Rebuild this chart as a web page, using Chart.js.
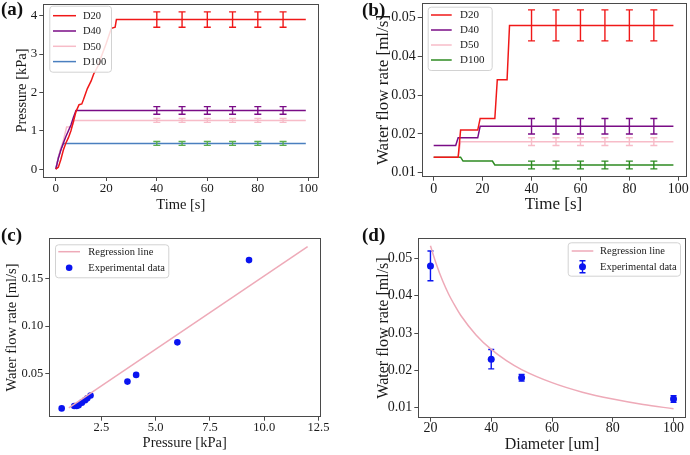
<!DOCTYPE html>
<html><head><meta charset="utf-8">
<script src="https://cdn.jsdelivr.net/npm/chart.js@4.4.1/dist/chart.umd.min.js"></script>
<style>
html,body{margin:0;padding:0;background:#fff;}
#wrap{position:relative;width:690px;height:455px;overflow:hidden;background:#fff;}
canvas{position:absolute;}
</style></head><body>
<div id="wrap">
<canvas id="ca" width="345" height="225" style="left:0;top:0"></canvas>
<canvas id="cb" width="345" height="225" style="left:345px;top:0"></canvas>
<canvas id="cc" width="345" height="230" style="left:0;top:225px"></canvas>
<canvas id="cd" width="345" height="230" style="left:345px;top:225px"></canvas>
</div>
<script>
// ---------------- DATA ----------------
const seriesNames = ['D20', 'D40', 'D50', 'D100'];

// (a) Pressure vs time
const aTimeD20  = [0, 1, 2, 3, 4, 5, 6, 7, 8, 9.2, 10.3, 11, 12.5, 14, 15, 17, 18, 20, 22, 23.5, 24, 99];
const aPressD20 = [0, 0.05, 0.25, 0.5, 0.68, 0.82, 1.0, 1.25, 1.5, 1.68, 1.7, 1.82, 2.1, 2.3, 2.48, 2.72, 2.93, 3.28, 3.67, 3.7, 3.9, 3.9];
const aTimeD40  = [0, 1, 2, 3, 4, 5, 6, 7, 8, 99];
const aPressD40 = [0, 0.28, 0.5, 0.68, 0.85, 1.0, 1.15, 1.35, 1.53, 1.53];
const aTimeD50  = [0, 1, 2, 3, 4.3, 6.3, 7.3, 99];
const aPressD50 = [0, 0.3, 0.55, 0.75, 1.1, 1.1, 1.27, 1.27];
const aTimeD100  = [0, 1, 2, 3, 99];
const aPressD100 = [0, 0.3, 0.52, 0.67, 0.67];
const aErrTimes = [40, 50, 60, 70, 80, 90];
const aErrMean  = [3.9, 1.53, 1.27, 0.67];
const aErrSize  = [0.2, 0.1, 0.05, 0.05];
const aXTicks = [0, 20, 40, 60, 80, 100];
const aYTicks = [0, 1, 2, 3, 4];

// (b) Water flow rate vs time
const bTimeD20  = [0, 10, 11, 18, 19, 25, 26, 30, 31, 98];
const bFlowD20  = [0.014, 0.014, 0.021, 0.021, 0.024, 0.024, 0.034, 0.034, 0.048, 0.048];
const bTimeD40  = [0, 9, 10, 18, 19, 98];
const bFlowD40  = [0.017, 0.017, 0.019, 0.019, 0.022, 0.022];
const bTimeD50  = [0, 10, 11, 98];
const bFlowD50  = [0.014, 0.014, 0.018, 0.018];
const bTimeD100 = [0, 11, 12, 24, 25, 98];
const bFlowD100 = [0.014, 0.014, 0.013, 0.013, 0.012, 0.012];
const bErrTimes = [40, 50, 60, 70, 80, 90];
const bErrMean  = [0.048, 0.022, 0.018, 0.012];
const bErrSize  = [0.004, 0.002, 0.001, 0.001];
const bXTicks = [0, 20, 40, 60, 80, 100];
const bYTicks = [0.01, 0.02, 0.03, 0.04, 0.05];

// (c) Flow rate vs pressure
const cPressure = [0.67, 1.25, 1.36, 1.45, 1.6, 1.75, 1.85, 2.0, 3.7, 4.1, 6.0, 9.3];
const cFlow     = [0.014, 0.0165, 0.0165, 0.0172, 0.020, 0.0225, 0.0245, 0.0275, 0.042, 0.049, 0.083, 0.169];
const cRegX = [1.0, 12.0];
const cRegY = [0.0144, 0.183];
const cXTicks = [2.5, 5.0, 7.5, 10.0, 12.5];
const cYTicks = [0.05, 0.10, 0.15];

// (d) Flow rate vs diameter
const dDiameter = [20, 40, 50, 100];
const dFlow     = [0.048, 0.023, 0.018, 0.0123];
const dFlowErr  = [0.004, 0.0026, 0.0009, 0.0009];
const dRegX = [20, 22, 24, 26, 28, 30, 35, 40, 45, 50, 60, 70, 80, 90, 100];
const dRegY = [0.0534, 0.0483, 0.0440, 0.0404, 0.0374, 0.0347, 0.0295, 0.0256, 0.0226, 0.0202, 0.0167, 0.01415, 0.0123, 0.01084, 0.0097];
const dXTicks = [20, 40, 60, 80, 100];
const dYTicks = [0.01, 0.02, 0.03, 0.04, 0.05];

const regLabel = 'Regression line';
const expLabel = 'Experimental data';

// ---------------- STYLE ----------------
const SERIF = "'Liberation Serif', 'Times New Roman', serif";
const TXT = '#1a1a1a';
const AX = '#4a4a4a';
const colA = ['#f01818', '#7a0c86', '#f7bcc8', '#4a7fbf'];
const colAErr = ['#f01818', '#7a0c86', '#f7bcc8', '#5aad4e'];
const colB = ['#f01818', '#7a0c86', '#f7bcc8', '#2e8b22'];
const regColor = '#eeaab8';
const expColor = '#0a14f0';

const zip = (xs, ys) => xs.map((x, i) => ({x, y: ys[i]}));

// ---------------- PLUGINS ----------------
function drawErr(chart, i, before) {
  const ds = chart.data.datasets[i];
  if (!ds.err || (!!ds.errBefore) !== before) return;
  const xs = chart.scales.x, ys = chart.scales.y, ctx = chart.ctx;
  const cap = ds.errCap || 3.5;
  ctx.save();
  ctx.strokeStyle = ds.errColor;
  ctx.lineWidth = ds.errWidth || 1.4;
  ds.err.x.forEach((xv, k) => {
    const yv = ds.err.y[k], e = ds.err.e[k];
    const px = xs.getPixelForValue(xv);
    const p1 = ys.getPixelForValue(yv - e), p2 = ys.getPixelForValue(yv + e);
    ctx.beginPath();
    ctx.moveTo(px, p1); ctx.lineTo(px, p2);
    ctx.moveTo(px - cap, p1); ctx.lineTo(px + cap, p1);
    ctx.moveTo(px - cap, p2); ctx.lineTo(px + cap, p2);
    ctx.stroke();
  });
  ctx.restore();
}
const errPlugin = {
  id: 'errbars',
  beforeDatasetDraw(chart, args) { drawErr(chart, args.index, true); },
  afterDatasetDraw(chart, args) { drawErr(chart, args.index, false); }
};
const framePlugin = {
  id: 'frame',
  afterDatasetsDraw(chart) {
    const a = chart.chartArea, ctx = chart.ctx;
    ctx.save();
    ctx.strokeStyle = AX; ctx.lineWidth = 1;
    ctx.strokeRect(Math.round(a.left) + 0.5, Math.round(a.top) + 0.5, Math.round(a.right - a.left), Math.round(a.bottom - a.top));
    ctx.restore();
  }
};
function rr(ctx, x, y, w, h, r) {
  ctx.beginPath();
  ctx.moveTo(x + r, y); ctx.lineTo(x + w - r, y); ctx.quadraticCurveTo(x + w, y, x + w, y + r);
  ctx.lineTo(x + w, y + h - r); ctx.quadraticCurveTo(x + w, y + h, x + w - r, y + h);
  ctx.lineTo(x + r, y + h); ctx.quadraticCurveTo(x, y + h, x, y + h - r);
  ctx.lineTo(x, y + r); ctx.quadraticCurveTo(x, y, x + r, y); ctx.closePath();
}
const legendPlugin = {
  id: 'boxLegend',
  afterDraw(chart, args, o) {
    if (!o || !o.items) return;
    const ctx = chart.ctx;
    ctx.save();
    rr(ctx, o.x + 0.5, o.y + 0.5, o.w, o.h, 3);
    ctx.fillStyle = 'rgba(255,255,255,0.85)'; ctx.fill();
    ctx.strokeStyle = '#d2d2d2'; ctx.lineWidth = 1; ctx.stroke();
    o.items.forEach(it => {
      const ds = chart.data.datasets[it.ds];
      if (it.kind === 'line') {
        ctx.strokeStyle = ds.borderColor; ctx.lineWidth = ds.borderWidth;
        ctx.beginPath(); ctx.moveTo(o.lx0, it.y); ctx.lineTo(o.lx1, it.y); ctx.stroke();
      } else {
        const mx = (o.lx0 + o.lx1) / 2;
        if (it.kind === 'markerErr') {
          ctx.strokeStyle = ds.errColor; ctx.lineWidth = 1.4;
          ctx.beginPath();
          ctx.moveTo(mx, it.y - 6); ctx.lineTo(mx, it.y + 6);
          ctx.moveTo(mx - 3, it.y - 6); ctx.lineTo(mx + 3, it.y - 6);
          ctx.moveTo(mx - 3, it.y + 6); ctx.lineTo(mx + 3, it.y + 6);
          ctx.stroke();
        }
        ctx.fillStyle = ds.backgroundColor;
        ctx.beginPath(); ctx.arc(mx, it.y, ds.pointRadius, 0, Math.PI * 2); ctx.fill();
      }
      ctx.fillStyle = TXT;
      ctx.font = o.fontSize + 'px ' + SERIF;
      ctx.textBaseline = 'middle'; ctx.textAlign = 'left';
      ctx.fillText(ds.label, o.tx, it.y + 0.5);
    });
    ctx.restore();
  }
};
const panelLabelPlugin = {
  id: 'panelLabel',
  afterDraw(chart, args, o) {
    if (!o || !o.text) return;
    const ctx = chart.ctx;
    ctx.save();
    ctx.fillStyle = '#111';
    ctx.font = 'bold ' + o.size + 'px ' + SERIF;
    ctx.textBaseline = 'middle'; ctx.textAlign = 'left';
    ctx.fillText(o.text, o.x, o.y);
    ctx.restore();
  }
};
Chart.register(errPlugin, framePlugin, legendPlugin, panelLabelPlugin);

// ---------------- HELPERS ----------------
function scale(o) {
  return {
    type: 'linear', min: o.min, max: o.max,
    afterBuildTicks: s => { s.ticks = o.ticks.map(v => ({value: v})); },
    ticks: { color: TXT, font: {family: SERIF, size: o.tickSize}, padding: o.tickPad,
             autoSkip: false, maxRotation: 0, callback: v => o.fmt(v) },
    grid: { display: true, drawOnChartArea: false, drawTicks: true, tickLength: 4, color: AX, tickColor: AX, lineWidth: 1 },
    border: { display: false },
    title: { display: true, text: o.title, color: TXT, font: {family: SERIF, size: o.titleSize}, padding: o.titlePad },
    afterFit: o.afterFit
  };
}
function make(id, area, W, H, xs, ys, datasets, legend, label) {
  xs.afterFit = s => { s.height = H - area.bottom; s.paddingLeft = 0; s.paddingRight = 0; };
  ys.afterFit = s => { s.width = area.left; s.paddingTop = 0; s.paddingBottom = 0; };
  return new Chart(document.getElementById(id), {
    type: 'scatter',
    data: { datasets },
    options: {
      responsive: false, animation: false, devicePixelRatio: 1,
      layout: { padding: { left: 0, top: area.top, right: W - area.right, bottom: 0 } },
      scales: { x: scale(xs), y: scale(ys) },
      plugins: { legend: { display: false }, tooltip: { enabled: false },
                 boxLegend: legend, panelLabel: label }
    }
  });
}
function lineDs(label, xs, ys, color, err) {
  const d = { label, data: zip(xs, ys), showLine: true, borderColor: color, backgroundColor: color,
              borderWidth: 1.5, pointRadius: 0, tension: 0 };
  if (err) Object.assign(d, err);
  return d;
}
const fmtInt = v => String(v);
const fmt2 = v => v.toFixed(2);
const fmt1 = v => v.toFixed(1);

// ---------------- (a) ----------------
const aX = [aTimeD20, aTimeD40, aTimeD50, aTimeD100];
const aY = [aPressD20, aPressD40, aPressD50, aPressD100];
make('ca', {left: 43.3, right: 318.3, top: 4, bottom: 177}, 345, 225,
  { min: -4.95, max: 103.95, ticks: aXTicks, fmt: fmtInt, title: 'Time [s]', tickSize: 13, titleSize: 14.5, tickPad: 0, titlePad: {top: 0, bottom: 11.3} },
  { min: -0.205, max: 4.305, ticks: aYTicks, fmt: fmtInt, title: 'Pressure [kPa]', tickSize: 13, titleSize: 14.5, tickPad: 2, titlePad: {top: 13, bottom: 0} },
  seriesNames.map((n, i) => lineDs(n, aX[i], aY[i], colA[i], {
    err: { x: aErrTimes, y: aErrTimes.map(() => aErrMean[i]), e: aErrTimes.map(() => aErrSize[i]) },
    errColor: colAErr[i], errCap: 3.5 })),
  { x: 49.3, y: 5.7, w: 61.7, h: 66, lx0: 53, lx1: 76, tx: 83, fontSize: 10.5,
    items: [{ds: 0, kind: 'line', y: 15.7}, {ds: 1, kind: 'line', y: 31}, {ds: 2, kind: 'line', y: 46.3}, {ds: 3, kind: 'line', y: 61.6}] },
  { text: '(a)', x: 1, y: 10, size: 19 });

// ---------------- (b) ----------------
const bX = [bTimeD20, bTimeD40, bTimeD50, bTimeD100];
const bY = [bFlowD20, bFlowD40, bFlowD50, bFlowD100];
make('cb', {left: 76.7, right: 340.4, top: 3.3, bottom: 176.7}, 345, 225,
  { min: -4.9, max: 102.9, ticks: bXTicks, fmt: fmtInt, title: 'Time [s]', tickSize: 14, titleSize: 17, tickPad: 0, titlePad: {top: 0, bottom: 9.8} },
  { min: 0.00897, max: 0.0537, ticks: bYTicks, fmt: fmt2, title: 'Water flow rate [ml/s]', tickSize: 14, titleSize: 17, tickPad: 2, titlePad: {top: 28.1, bottom: 0} },
  seriesNames.map((n, i) => lineDs(n, bX[i], bY[i], colB[i], {
    err: { x: bErrTimes, y: bErrTimes.map(() => bErrMean[i]), e: bErrTimes.map(() => bErrSize[i]) },
    errColor: colB[i], errCap: 3.5 })),
  { x: 82.7, y: 6.7, w: 64, h: 63.3, lx0: 86, lx1: 106.7, tx: 115, fontSize: 11,
    items: [{ds: 0, kind: 'line', y: 15}, {ds: 1, kind: 'line', y: 30}, {ds: 2, kind: 'line', y: 45}, {ds: 3, kind: 'line', y: 60}] },
  { text: '(b)', x: 17, y: 11, size: 19 });

// ---------------- (c) ----------------
make('cc', {left: 49.3, right: 320, top: 13.3, bottom: 191.7}, 345, 230,
  { min: 0.10, max: 12.57, ticks: cXTicks, fmt: fmt1, title: 'Pressure [kPa]', tickSize: 12.5, titleSize: 14.5, tickPad: 0, titlePad: {top: 0, bottom: 3} },
  { min: 0.0053, max: 0.1918, ticks: cYTicks, fmt: fmt2, title: 'Water flow rate [ml/s]', tickSize: 12.5, titleSize: 14.5, tickPad: 2, titlePad: {top: 3, bottom: 0} },
  [ lineDs(regLabel, cRegX, cRegY, regColor),
    { label: expLabel, data: zip(cPressure, cFlow), showLine: false, pointRadius: 3.3,
      backgroundColor: expColor, borderColor: expColor, borderWidth: 0, pointBorderWidth: 0 } ],
  { x: 55, y: 19.3, w: 113.3, h: 33, lx0: 58.3, lx1: 80, tx: 88.3, fontSize: 10.5,
    items: [{ds: 0, kind: 'line', y: 26.7}, {ds: 1, kind: 'marker', y: 42.7}] },
  { text: '(c)', x: 1, y: 11, size: 19 });

// ---------------- (d) ----------------
make('cd', {left: 73.3, right: 340.7, top: 13.3, bottom: 192.7}, 345, 230,
  { min: 16, max: 104, ticks: dXTicks, fmt: fmtInt, title: 'Diameter [um]', tickSize: 14, titleSize: 16, tickPad: -2, titlePad: {top: 0, bottom: 0.4} },
  { min: 0.0073, max: 0.0554, ticks: dYTicks, fmt: fmt2, title: 'Water flow rate [ml/s]', tickSize: 14, titleSize: 16, tickPad: 2, titlePad: {top: 28.7, bottom: 0} },
  [ Object.assign(lineDs(regLabel, dRegX, dRegY, regColor), { cubicInterpolationMode: 'monotone' }),
    { label: expLabel, data: zip(dDiameter, dFlow), showLine: false, pointRadius: 3.5,
      backgroundColor: expColor, borderColor: expColor, borderWidth: 0, pointBorderWidth: 0,
      err: { x: dDiameter, y: dFlow, e: dFlowErr }, errColor: expColor, errCap: 3, errBefore: true } ],
  { x: 222.7, y: 17.3, w: 112.3, h: 33.4, lx0: 226.7, lx1: 248.3, tx: 255, fontSize: 10.5,
    items: [{ds: 0, kind: 'line', y: 26}, {ds: 1, kind: 'markerErr', y: 41.7}] },
  { text: '(d)', x: 17, y: 11, size: 19 });
</script>
</body></html>
